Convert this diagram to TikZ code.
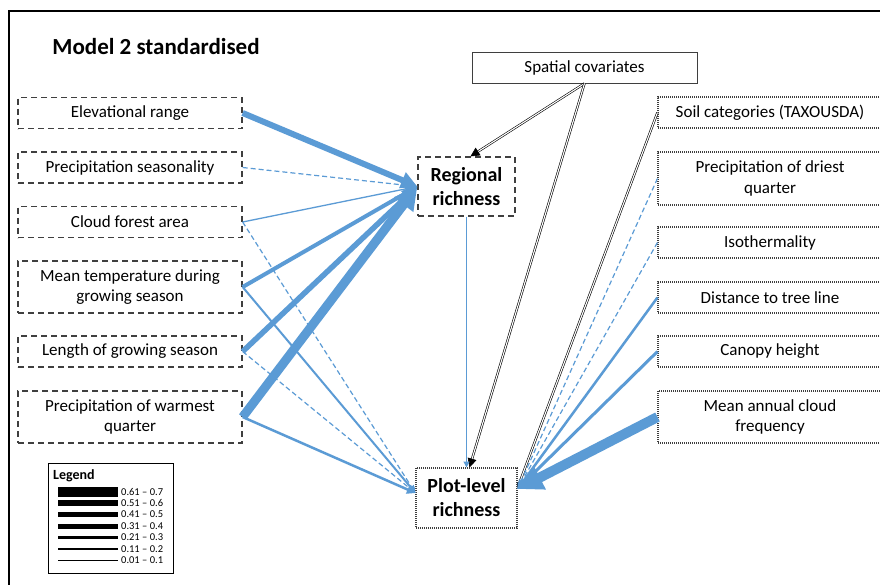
\documentclass[tikz,border=0pt]{standalone}
\usepackage{fontspec}
\setmainfont{Carlito}
\usetikzlibrary{arrows.meta}
\definecolor{lnblue}{HTML}{5B9BD5}
\definecolor{bxgray}{HTML}{3F3F3F}
\begin{document}
\begin{tikzpicture}[x=1pt,y=-1pt,
  boxfont/.style={font=\fontsize{17}{20.5}\selectfont},
  lbox/.style={draw=bxgray, line width=1.3pt, dash pattern=on 6pt off 4pt, minimum width=224pt, inner sep=2pt, align=center, boxfont},
  rbox/.style={draw=bxgray, line width=1.1pt, dash pattern=on 1pt off 1pt, minimum width=224pt, inner sep=2pt, align=center, boxfont},
  hone/.style={minimum height=31pt},
  htwo/.style={minimum height=52pt},
  conn/.style={draw=lnblue, line width=#1, -{Triangle[length=3pt 2.2,width=3pt 2.2]}},
  dconn/.style={draw=lnblue, line width=1.2pt, dash pattern=on 5pt off 3pt, -{Triangle[length=6pt,width=5pt]}},
  dbl/.style={draw=black, line width=0.6pt, double=white, double distance=1.1pt, -{Triangle[length=9pt,width=9pt]}},
  legtxt/.style={font=\fontsize{10.5}{12}\selectfont, anchor=west, inner sep=0pt},
]
\useasboundingbox (0,0) rectangle (880,584);
\clip (0,0) rectangle (880,584);
\fill[white] (0,0) rectangle (880,584);
% outer frame (cropped)
\draw[line width=2pt] (9,600) -- (9,11) -- (900,11);
% title
\node[font=\bfseries\fontsize{23}{26}\selectfont] (title) at (156,47) {Model 2 standardised};
% left boxes
\node[lbox,hone] (elev) at (130,113) {Elevational range};
\node[lbox,hone] (pseas) at (130,167.5) {Precipitation seasonality};
\node[lbox,hone] (cloud) at (130,222) {Cloud forest area};
\node[lbox,htwo] (mtemp) at (130,287) {Mean temperature during\\growing season};
\node[lbox,hone] (length) at (130,351.5) {Length of growing season};
\node[lbox,htwo] (pwarm) at (130,417) {Precipitation of warmest\\quarter};
% right boxes
\node[rbox,hone] (soil) at (770,112.5) {Soil categories (TAXOUSDA)};
\node[rbox,minimum height=53pt] (pdry) at (770,178.5) {Precipitation of driest\\quarter};
\node[rbox,hone] (iso) at (770,242.5) {Isothermality};
\node[rbox,hone] (tree) at (770,297.5) {Distance to tree line};
\node[rbox,hone] (canopy) at (770,351.5) {Canopy height};
\node[rbox,htwo] (cfreq) at (770,417) {Mean annual cloud\\frequency};
% centre boxes
\node[draw=bxgray, line width=0.9pt, minimum width=225pt, minimum height=31pt, boxfont] (spat) at (584.5,67.5) {Spatial covariates};
\node[draw=bxgray, line width=1.3pt, dash pattern=on 6pt off 4pt, minimum width=97pt, minimum height=59pt, align=center, font=\bfseries\fontsize{20}{24}\selectfont] (reg) at (466.5,186.5) {Regional\\richness};
\node[draw=bxgray, line width=1.1pt, dash pattern=on 1pt off 1pt, minimum width=101pt, minimum height=60pt, align=center, font=\bfseries\fontsize{20}{24}\selectfont] (plot) at (466.5,498) {Plot-level\\richness};
% black double connectors
\draw[dbl] (spat.south) -- ([xshift=4pt]reg.north);
\draw[dbl] (spat.south) -- ([xshift=3pt]plot.north);
\draw[dbl,-{Triangle[length=5pt,width=5pt]}] (soil.west) -- ([yshift=10pt]plot.east);
% left to regional
\draw[conn=6pt] (elev.east) -- (reg.west);
\draw[dconn] (pseas.east) -- (reg.west);
\draw[conn=1.3pt] (cloud.east) -- (reg.west);
\draw[conn=4pt] (mtemp.east) -- (reg.west);
\draw[conn=5.5pt] (length.east) -- (reg.west);
\draw[conn=9pt] (pwarm.east) -- (reg.west);
% left to plot
\draw[dconn] (cloud.east) -- ([yshift=5pt]plot.west);
\draw[conn=2pt] (mtemp.east) -- ([yshift=5pt]plot.west);
\draw[dconn] (length.east) -- ([yshift=5pt]plot.west);
\draw[conn=2.5pt] (pwarm.east) -- ([yshift=5pt]plot.west);
% regional to plot
\draw[conn=1.3pt] (reg.south) -- (plot.north);
% right to plot
\draw[dconn] (pdry.west) -- ([yshift=9pt]plot.east);
\draw[dconn] (iso.west) -- ([yshift=9pt]plot.east);
\draw[conn=2.5pt] (tree.west) -- ([yshift=9pt]plot.east);
\draw[conn=3pt] (canopy.west) -- ([yshift=9pt]plot.east);
\draw[conn=10pt] (cfreq.west) -- ([yshift=9pt]plot.east);
% legend
\node[draw=black, line width=1pt, minimum width=125pt, minimum height=110pt, inner sep=0pt] (legend) at (110.5,518) {};
\node[font=\bfseries\fontsize{14}{16}\selectfont, anchor=west, inner sep=0pt] (legtitle) at (53,476) {Legend};
\draw[line width=10pt] (58,491.7) -- (118,491.7);
\draw[line width=6pt] (58,503) -- (118,503);
\draw[line width=5pt] (58,514) -- (118,514);
\draw[line width=5pt] (58,526) -- (118,526);
\draw[line width=3.7pt] (58,537.5) -- (118,537.5);
\draw[line width=2.3pt] (58,549) -- (118,549);
\draw[line width=1pt] (58,560) -- (118,560);
\node[legtxt] (lg1) at (121,491.7) {0.61 – 0.7};
\node[legtxt] (lg2) at (121,503) {0.51 – 0.6};
\node[legtxt] (lg3) at (121,514) {0.41 – 0.5};
\node[legtxt] (lg4) at (121,526) {0.31 – 0.4};
\node[legtxt] (lg5) at (121,537.5) {0.21 – 0.3};
\node[legtxt] (lg6) at (121,549) {0.11 – 0.2};
\node[legtxt] (lg7) at (121,560) {0.01 – 0.1};
\end{tikzpicture}
\end{document}
